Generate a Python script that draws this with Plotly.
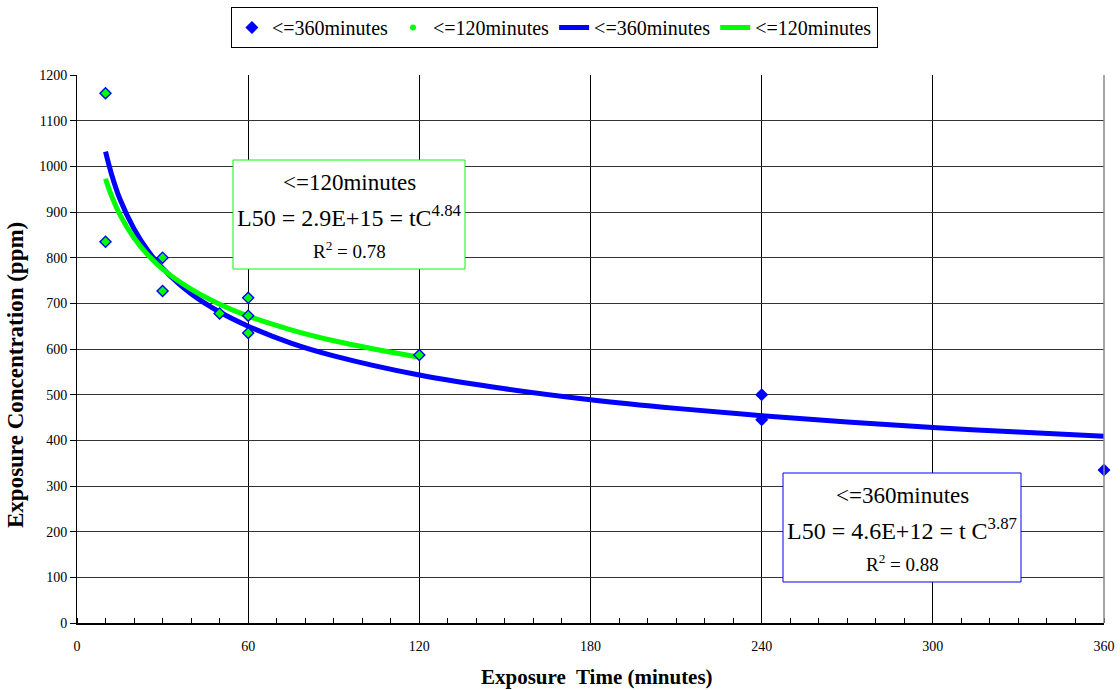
import plotly.graph_objects as go

# Observed data points
t_all = [10, 10, 30, 30, 50, 60, 60, 60, 120, 240, 240, 360]
c_all = [1160, 835, 800, 727, 678, 712, 673, 635, 587, 500, 445, 335]
t_120 = [10, 10, 30, 30, 50, 60, 60, 60, 120]
c_120 = [1160, 835, 800, 727, 678, 712, 673, 635, 587]

# Trend curves
t_fit360 = [10, 12, 15, 20, 25, 30, 40, 50, 60, 75, 90, 120, 150, 180, 210, 240, 270, 300, 330, 360]
c_fit360 = [1032, 985, 929, 863, 814, 777, 721, 681, 650, 613, 585, 543, 513, 489, 470, 454, 440, 428, 418, 409]
t_fit120 = [10, 12, 15, 20, 25, 30, 40, 50, 60, 75, 90, 105, 120]
c_fit120 = [973, 937, 895, 843, 805, 775, 731, 698, 672, 642, 618, 599, 582]

x_ticks = [0, 60, 120, 180, 240, 300, 360]
y_ticks = list(range(0, 1300, 100))

SERIF = "Liberation Serif, Times New Roman, serif"
BLUE = "#0000FF"
GREEN = "#00FF00"

W, H = 1120, 690
L, R, T, B = 77, 16, 75, 67
PW, PH = W - L - R, H - T - B


def px(xp):
    return (xp - L) / PW


def py(yp):
    return (H - B - yp) / PH


fig = go.Figure()

fig.add_trace(go.Scatter(x=t_fit360, y=c_fit360, mode="lines", line=dict(color=BLUE, width=5, shape="spline"),
                         name="&lt;=360minutes", legendrank=3))
fig.add_trace(go.Scatter(x=t_fit120, y=c_fit120, mode="lines", line=dict(color=GREEN, width=5, shape="spline"),
                         name="&lt;=120minutes", legendrank=4))
fig.add_trace(go.Scatter(x=t_all, y=c_all, mode="markers", marker=dict(symbol="diamond", size=10, color=BLUE),
                         name="&lt;=360minutes", legendrank=1, cliponaxis=False))
fig.add_trace(go.Scatter(x=t_120, y=c_120, mode="markers", marker=dict(symbol="diamond", size=7, color=GREEN),
                         showlegend=False, cliponaxis=False))
fig.add_trace(go.Scatter(x=[None], y=[None], mode="markers", marker=dict(symbol="circle", size=6, color=GREEN),
                         name="&lt;=120minutes", legendrank=2))

fig.update_layout(
    width=W, height=H,
    margin=dict(l=L, r=R, t=T, b=B),
    paper_bgcolor="white", plot_bgcolor="white",
    font=dict(family=SERIF, color="black", size=14),
    showlegend=True,
    legend=dict(orientation="h", x=0.495, xref="container", xanchor="center",
                y=1 - 7 / H, yref="container", yanchor="top",
                bordercolor="black", borderwidth=1, font=dict(size=20, family=SERIF),
                itemwidth=30, bgcolor="white"),
    xaxis=dict(range=[0, 360], tickvals=x_ticks, ticktext=[str(v) for v in x_ticks],
               showgrid=True, gridcolor="black", gridwidth=1, zeroline=False,
               showline=True, linecolor="black", linewidth=2, mirror=False,
               ticks="", tickfont=dict(size=14, family=SERIF), ticklabelstandoff=9,
               automargin=False,
               minor=dict(dtick=10, ticks="inside", ticklen=5, tickcolor="black", showgrid=False)),
    yaxis=dict(range=[0, 1200], tickvals=y_ticks,
               showgrid=True, gridcolor="#333333", gridwidth=1, zeroline=False,
               showline=True, linecolor="black", linewidth=1, automargin=False,
               ticks="outside", ticklen=6, tickcolor="black", tickfont=dict(size=14, family=SERIF)),
)

# right border
fig.add_shape(type="line", xref="paper", yref="paper", x0=1, x1=1, y0=0, y1=1,
              line=dict(color="#888888", width=1.5))

# Axis titles
fig.add_annotation(xref="paper", yref="paper", x=px(597), y=py(677), xanchor="center", yanchor="middle",
                   text="<b>Exposure  Time (minutes)</b>", showarrow=False,
                   font=dict(size=21, family=SERIF, color="black"))
fig.add_annotation(xref="paper", yref="paper", x=px(15), y=py(375), xanchor="center", yanchor="middle",
                   text="<b>Exposure Concentration (ppm)</b>", showarrow=False, textangle=-90,
                   font=dict(size=23, family=SERIF, color="black"))

# Equation boxes
fig.add_shape(type="rect", xref="paper", yref="paper", x0=px(233), x1=px(465), y0=py(269), y1=py(160),
              line=dict(color=GREEN, width=1), fillcolor="white", layer="above")
fig.add_shape(type="rect", xref="paper", yref="paper", x0=px(783), x1=px(1021), y0=py(582), y1=py(473),
              line=dict(color=BLUE, width=1), fillcolor="white", layer="above")

box_lines = [
    (349, 182, "&lt;=120minutes", 23),
    (349, 216, "L50 = 2.9E+15 = tC<sup>4.84</sup>", 24),
    (349, 250, "R<sup>2</sup> = 0.78", 19),
    (902, 495, "&lt;=360minutes", 23),
    (902, 529, "L50 = 4.6E+12 = t C<sup>3.87</sup>", 24),
    (902, 563, "R<sup>2</sup> = 0.88", 19),
]
for bx, by, txt, fs in box_lines:
    fig.add_annotation(xref="paper", yref="paper", x=px(bx), y=py(by), xanchor="center", yanchor="middle",
                       text=txt, showarrow=False, font=dict(size=fs, family=SERIF, color="black"))

fig.write_html("out.html")
